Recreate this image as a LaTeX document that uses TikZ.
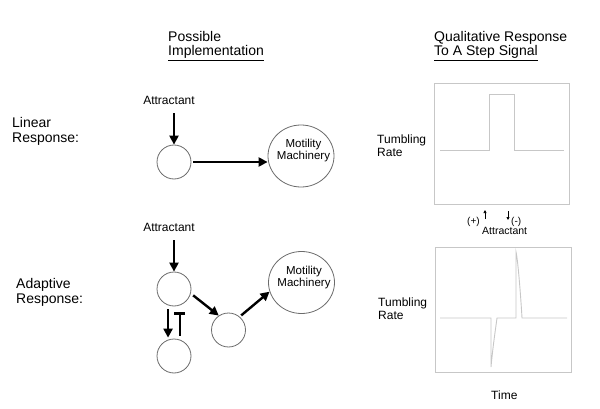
\documentclass[tikz,border=0pt]{standalone}
\usepackage{fontspec}
\setmainfont{Liberation Sans}
\usetikzlibrary{shapes.geometric,arrows.meta}
\definecolor{plotgray}{gray}{0.78}
\definecolor{rimgray}{gray}{0.42}
\newcommand{\bigfont}{\fontsize{14}{15}\selectfont}
\newcommand{\midfont}{\fontsize{12}{13}\selectfont}
\tikzset{
    cell/.style={
        draw=rimgray,
        circle,
        minimum size=34pt,
        inner sep=0pt,
        line width=0.8pt
    },
    motor/.style={
        draw=rimgray,
        ellipse,
        minimum width=66pt,
        minimum height=62pt,
        inner sep=0pt,
        line width=0.8pt
    },
    motortext/.style={inner sep=0pt,align=center,font=\fontsize{11.5}{12}\selectfont},
    heading/.style={inner sep=0pt,font=\bigfont,align=left},
    sidetext/.style={inner sep=0pt,font=\midfont,align=left},
    push/.style={line width=2.4pt,-{Triangle[length=9pt,width=9pt]}},
    block/.style={line width=2.4pt,-{Bar[width=11pt]}},
    trace/.style={draw=plotgray,line width=0.9pt,line join=miter}
}
\newcommand{\signalbox}[4] {
    \draw[trace] ({#1}, {#2}) rectangle ({#3}, {#4});
}

\begin{document}
\begin{tikzpicture}[x=1pt,y=-1pt]
    \useasboundingbox (0,0) rectangle (600,409);
    % column headings
    \node[heading,anchor=base west] (possible) at (168,42) {Possible};
    \node[heading,anchor=base west] (implement) at (168,56) {\underline{Implementation}};
    \node[heading,anchor=base west] (qualitative) at (434,42) {Qualitative Response};
    \node[heading,anchor=base west] (stepsignal) at (434,56) {\underline{To A Step Signal}};

    % linear response
    \node[heading,anchor=north west] (linear) at (12,117) {Linear\\Response:};
    \node[sidetext,anchor=base] (attA) at (169,105) {Attractant};
    \node[cell] (cA) at (174,162) {};
    \node[motor] (motorA) at (301,156) {};
    \node[motortext,anchor=base] (motorAtext) at (303.5,160) {Motility\\Machinery};
    \draw[push,shorten <=8pt] (attA.south -| cA.north) -- (cA.north);
    \draw[push,shorten <=2pt] (cA.east) -- (motorA.west |- cA.east);

    % adaptive response
    \node[heading,anchor=north west] (adaptive) at (16,278) {Adaptive\\Response:};
    \node[sidetext,anchor=base] (attB) at (169,231) {Attractant};
    \node[cell] (cB) at (174,289) {};
    \node[cell] (cC) at (228.5,330) {};
    \node[cell] (cD) at (174,356) {};
    \node[motor] (motorB) at (301.5,282.5) {};
    \node[motortext,anchor=base] (motorBtext) at (304,286) {Motility\\Machinery};
    \draw[push,shorten <=9pt] (attB.south -| cB.north) -- (cB.north);
    \draw[push,shorten <=3pt] (cB.-15) -- (cC.124);
    \draw[push,shorten <=2pt] (cC.50) -- (motorB.196);
    \draw[push,shorten <=4pt,shorten >=2pt] (cB.250) -- (cD.110);
    \draw[block,shorten <=4pt,shorten >=7pt] (cD.70) -- (cB.290);

    % step signal plots
    \signalbox{434}{83}{569}{204}
    \signalbox{435}{247}{571}{372}
    \draw[trace] (440,150) -- (489,150) -- (489,94) -- (514,94) -- (514,150) -- (564,150);
    \draw[trace] (440,318) -- (491,318) -- (491,367)
        .. controls (493,345) and (496,326) .. (497,318) -- (516,318) -- (516,252)
        .. controls (518,260) and (521,300) .. (522,318) -- (567,318);
    \node[sidetext,anchor=north west] (rateA) at (377,135) {Tumbling\\Rate};
    \node[sidetext,anchor=north west] (rateB) at (378,298) {Tumbling\\Rate};
    \node[sidetext,anchor=base west] (time) at (491,399) {Time};

    % attractant on and off
    \node[inner sep=0pt,anchor=base west,font=\fontsize{10}{11}\selectfont] (plus) at (467,225) {(+)};
    \node[inner sep=0pt,anchor=base west,font=\fontsize{10}{11}\selectfont] (minus) at (511,225) {(-)};
    \node[inner sep=0pt,anchor=base west,font=\fontsize{10.5}{11}\selectfont] (attC) at (482,234) {Attractant};
    \coordinate (upfoot) at (485,219);
    \coordinate (uptip) at (485,210);
    \coordinate (downfoot) at (508,211);
    \coordinate (downtip) at (508,220);
    \draw[line width=0.7pt,-{Triangle[length=3pt,width=3pt]}] (upfoot) -- (uptip);
    \draw[line width=0.7pt,-{Triangle[length=3pt,width=3pt]}] (downfoot) -- (downtip);
\end{tikzpicture}
\end{document}
